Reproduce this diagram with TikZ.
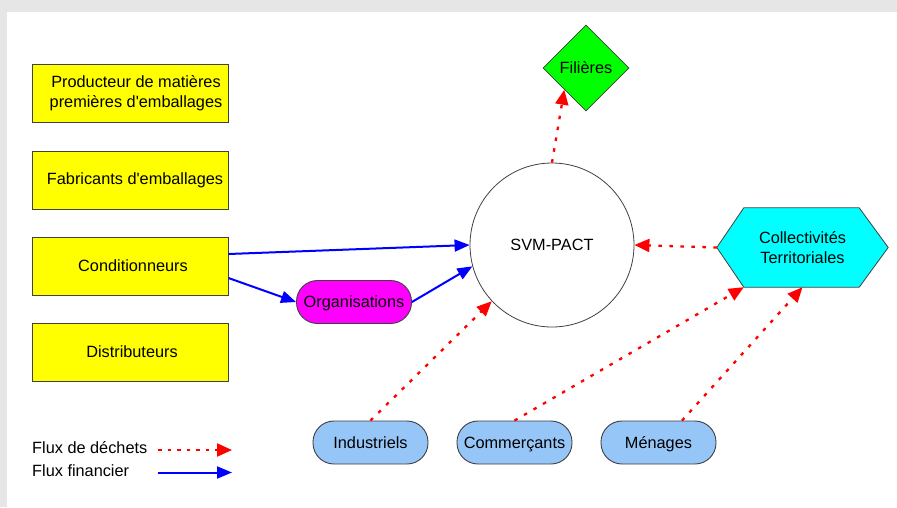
\documentclass[tikz,border=0pt]{standalone}
\usepackage{fontspec}
\setmainfont{Liberation Sans}
\usetikzlibrary{arrows.meta,shapes.geometric,calc}
\pgfdeclarelayer{backdrop}
\pgfdeclarelayer{background}
\pgfsetlayers{backdrop,background,main}

\definecolor{framegray}{HTML}{E6E6E6}
\definecolor{edgegray}{HTML}{404040}
\definecolor{pillblue}{HTML}{96C6F8}
\definecolor{boxyellow}{HTML}{FFFF00}
\definecolor{diagreen}{HTML}{00FF00}
\definecolor{hexcyan}{HTML}{00FFFF}
\definecolor{orgmagenta}{HTML}{FF00FF}
\definecolor{flowred}{HTML}{FF0000}
\definecolor{flowblue}{HTML}{0000FF}

\tikzset{
  ybox/.style={draw=edgegray, line width=0.9pt, fill=boxyellow, inner sep=0pt,
               minimum width=196pt, minimum height=58pt},
  pill/.style={draw=edgegray, line width=0.9pt, rounded corners=21pt, inner sep=0pt,
               minimum width=115pt, minimum height=43pt,
               text height=11.7pt, text depth=0pt},
  waste/.style={draw=flowred, line width=2.3pt, dash pattern=on 3.5pt off 7.5pt,
                -{Triangle[length=15pt,width=13pt]}},
  money/.style={draw=flowblue, line width=2pt,
                -{Triangle[length=15pt,width=12pt]}}
}

\begin{document}
\begin{tikzpicture}[x=1pt, y=-1pt, font=\fontsize{16.3}{20}\selectfont]
  % page frame
  \begin{pgfonlayer}{backdrop}
    \fill[framegray] (0,0) rectangle (897,507);
    \fill[white] (7,12) rectangle (897,507);
  \end{pgfonlayer}
  \useasboundingbox (0,0) rectangle (897,507);

  % actors of the packaging chain
  \node[ybox, label={[xshift=6pt, align=center]center:Producteur de matières\\premières d\textquotesingle emballages}] (prod) at (130,93) {};
  \node[ybox, label={[xshift=5pt]center:Fabricants d\textquotesingle emballages}] (fab) at (130,180) {};
  \node[ybox, label={[xshift=3pt]center:Conditionneurs}] (cond) at (130,266) {};
  \node[ybox, label={[xshift=2pt]center:Distributeurs}] (dist) at (130,352) {};

  % central body
  \node[circle, draw=edgegray, line width=0.8pt, fill=white, minimum size=164pt,
        inner sep=0pt, text height=11.7pt, text depth=0pt] (svm) at (552,245) {SVM-PACT};

  % recycling channels
  \node[diamond, draw=edgegray, line width=0.8pt, fill=diagreen, minimum width=86pt,
        minimum height=86pt, inner sep=0pt, text height=11.7pt, text depth=0pt] (fil) at (586,68) {Filières};

  % local authorities (hexagon drawn behind the text)
  \node[minimum width=171pt, minimum height=79pt, inner sep=0pt, align=center] (coll) at (802.5,247.5) {Collectivités\\Territoriales};
  \begin{pgfonlayer}{background}
    \draw[edgegray, line width=0.8pt, fill=hexcyan]
      (coll.west) -- ($(coll.north west)+(27,0)$) -- ($(coll.north east)+(-29,0)$)
      -- (coll.east) -- ($(coll.south east)+(-29,0)$) -- ($(coll.south west)+(27,0)$) -- cycle;
  \end{pgfonlayer}

  \node[pill, fill=orgmagenta] (org) at (354,302) {Organisations};
  \node[pill, fill=pillblue] (ind) at (370.5,442.5) {Industriels};
  \node[pill, fill=pillblue] (comm) at (514.5,442.5) {Commerçants};
  \node[pill, fill=pillblue] (men) at (658.5,442.5) {Ménages};

  % financial flows
  \draw[money] ([yshift=12pt]cond.east) -- (svm.180);
  \draw[money] ([yshift=-12pt]cond.east) -- (org.west);
  \draw[money] (org.east) -- (svm.195);

  % waste flows
  \draw[waste] (ind.north) -- (svm.223);
  \draw[waste] (comm.north) -- ($(coll.south west)+(27,0)$);
  \draw[waste] ([xshift=23.5pt]men.north) -- (coll.south);
  \draw[waste] (coll.west) -- (svm.east);
  \draw[waste] (svm.north) -- (fil.south west);

  % legend
  \node[anchor=base west, inner sep=0pt] (lgw) at (32,453) {Flux de déchets};
  \node[anchor=base west, inner sep=0pt] (lgf) at (32,476) {Flux financier};
  \coordinate (lgwa) at (158,450);
  \coordinate (lgwb) at (232,450);
  \coordinate (lgfa) at (158,472.5);
  \coordinate (lgfb) at (232,472.5);
  \draw[waste, dash pattern=on 3.5pt off 6pt] (lgwa) -- (lgwb);
  \draw[money] (lgfa) -- (lgfb);
\end{tikzpicture}
\end{document}
